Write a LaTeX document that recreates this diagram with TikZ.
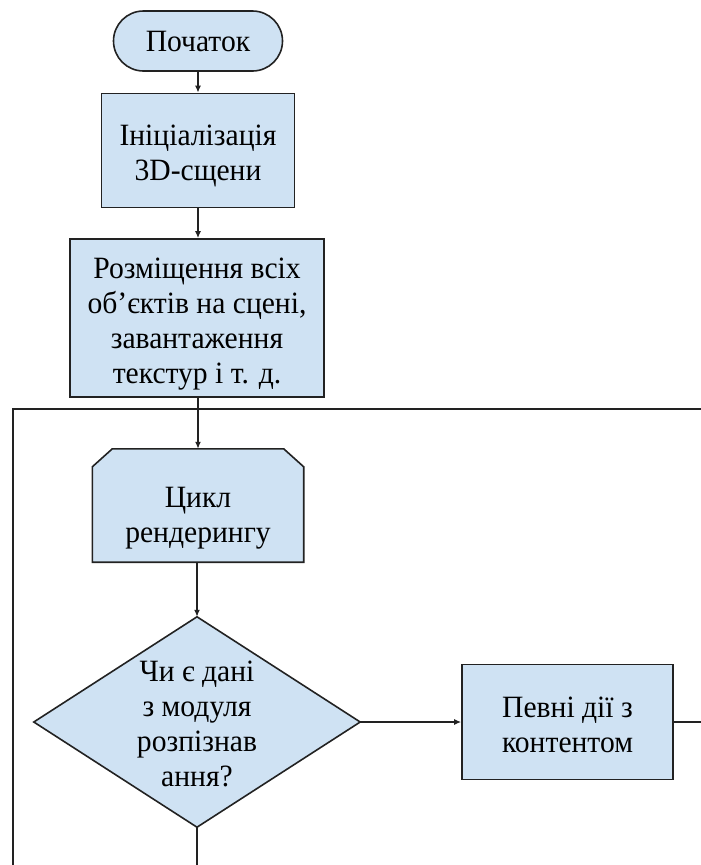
\documentclass[tikz,border=0pt]{standalone}
\usepackage{fontspec}
\setmainfont{Liberation Serif}[FakeStretch=0.955]
\usetikzlibrary{arrows.meta}
\pgfdeclarelayer{background}
\pgfsetlayers{background,main}
\definecolor{boxfill}{HTML}{CFE2F3}
\definecolor{linec}{HTML}{222222}
% #1 = height of the top strut (24.5pt + twice the downward shift of the text)
\newcommand{\mlines}[2]{\begin{tabular}{@{}c@{}}\rule{0pt}{#1}#2\end{tabular}}
\begin{document}
\begin{tikzpicture}[x=1pt,y=-1pt,
  font=\fontsize{31}{35}\selectfont,
  base/.style={draw=linec, fill=boxfill, line width=1.6pt},
  procbox/.style={base, rectangle, align=center, inner sep=0pt},
  textonly/.style={rectangle, align=center, inner sep=0pt},
  conn/.style={draw=linec, line width=1.6pt},
  arr/.style={conn, -{Latex[length=7pt,width=6pt]}}
]
\useasboundingbox (0,0) rectangle (701,865);

% frame of the loop
\draw[conn] (13,870) -- (13,409) -- (706,409);

\node[procbox, rounded corners=30pt, minimum width=169pt, minimum height=60pt] (start) at (198,41) {Початок};
\node[procbox, minimum width=193pt, minimum height=114pt] (init) at (198,150.5) {\mlines{34.5pt}{Ініціалізація\\3D-сщени}};
\node[procbox, minimum width=254pt, minimum height=158pt] (place) at (197,318) {\mlines{35.5pt}{Розміщення всіх\\об’єктів на сцені,\\завантаження\\текстур і т. д.}};

\node[textonly, minimum width=211pt, minimum height=113pt] (loop) at (198,505.5) {\mlines{48.5pt}{Цикл\\рендерингу}};
\node[textonly, minimum width=326pt, minimum height=210pt] (dec) at (197,722) {\mlines{34.5pt}{Чи є дані\\з модуля\\розпізнав\\ання?}};
\node[procbox, minimum width=211pt, minimum height=115pt] (act) at (567.5,722) {\mlines{36.5pt}{Певні дії з\\контентом}};

\begin{pgfonlayer}{background}
\path[base] ([xshift=20pt]loop.north west) -- ([xshift=-20pt]loop.north east)
  -- ([yshift=-18pt]loop.north east) -- (loop.south east) -- (loop.south west)
  -- ([yshift=-18pt]loop.north west) -- cycle;
\path[base] (dec.north) -- (dec.east) -- (dec.south) -- (dec.west) -- cycle;
\end{pgfonlayer}

\coordinate (actout) at (706,722);
\coordinate (decout) at (197,870);

\draw[arr] (start) -- (init);
\draw[arr] (init) -- (place.north -| init);
\draw[arr] (place.south -| loop) -- (loop);
\draw[arr] (loop.south -| dec) -- (dec.north);
\draw[arr] (dec.east) -- (act);
\draw[conn] (act.east) -- (actout);
\draw[conn] (dec.south) -- (decout);
\end{tikzpicture}
\end{document}
